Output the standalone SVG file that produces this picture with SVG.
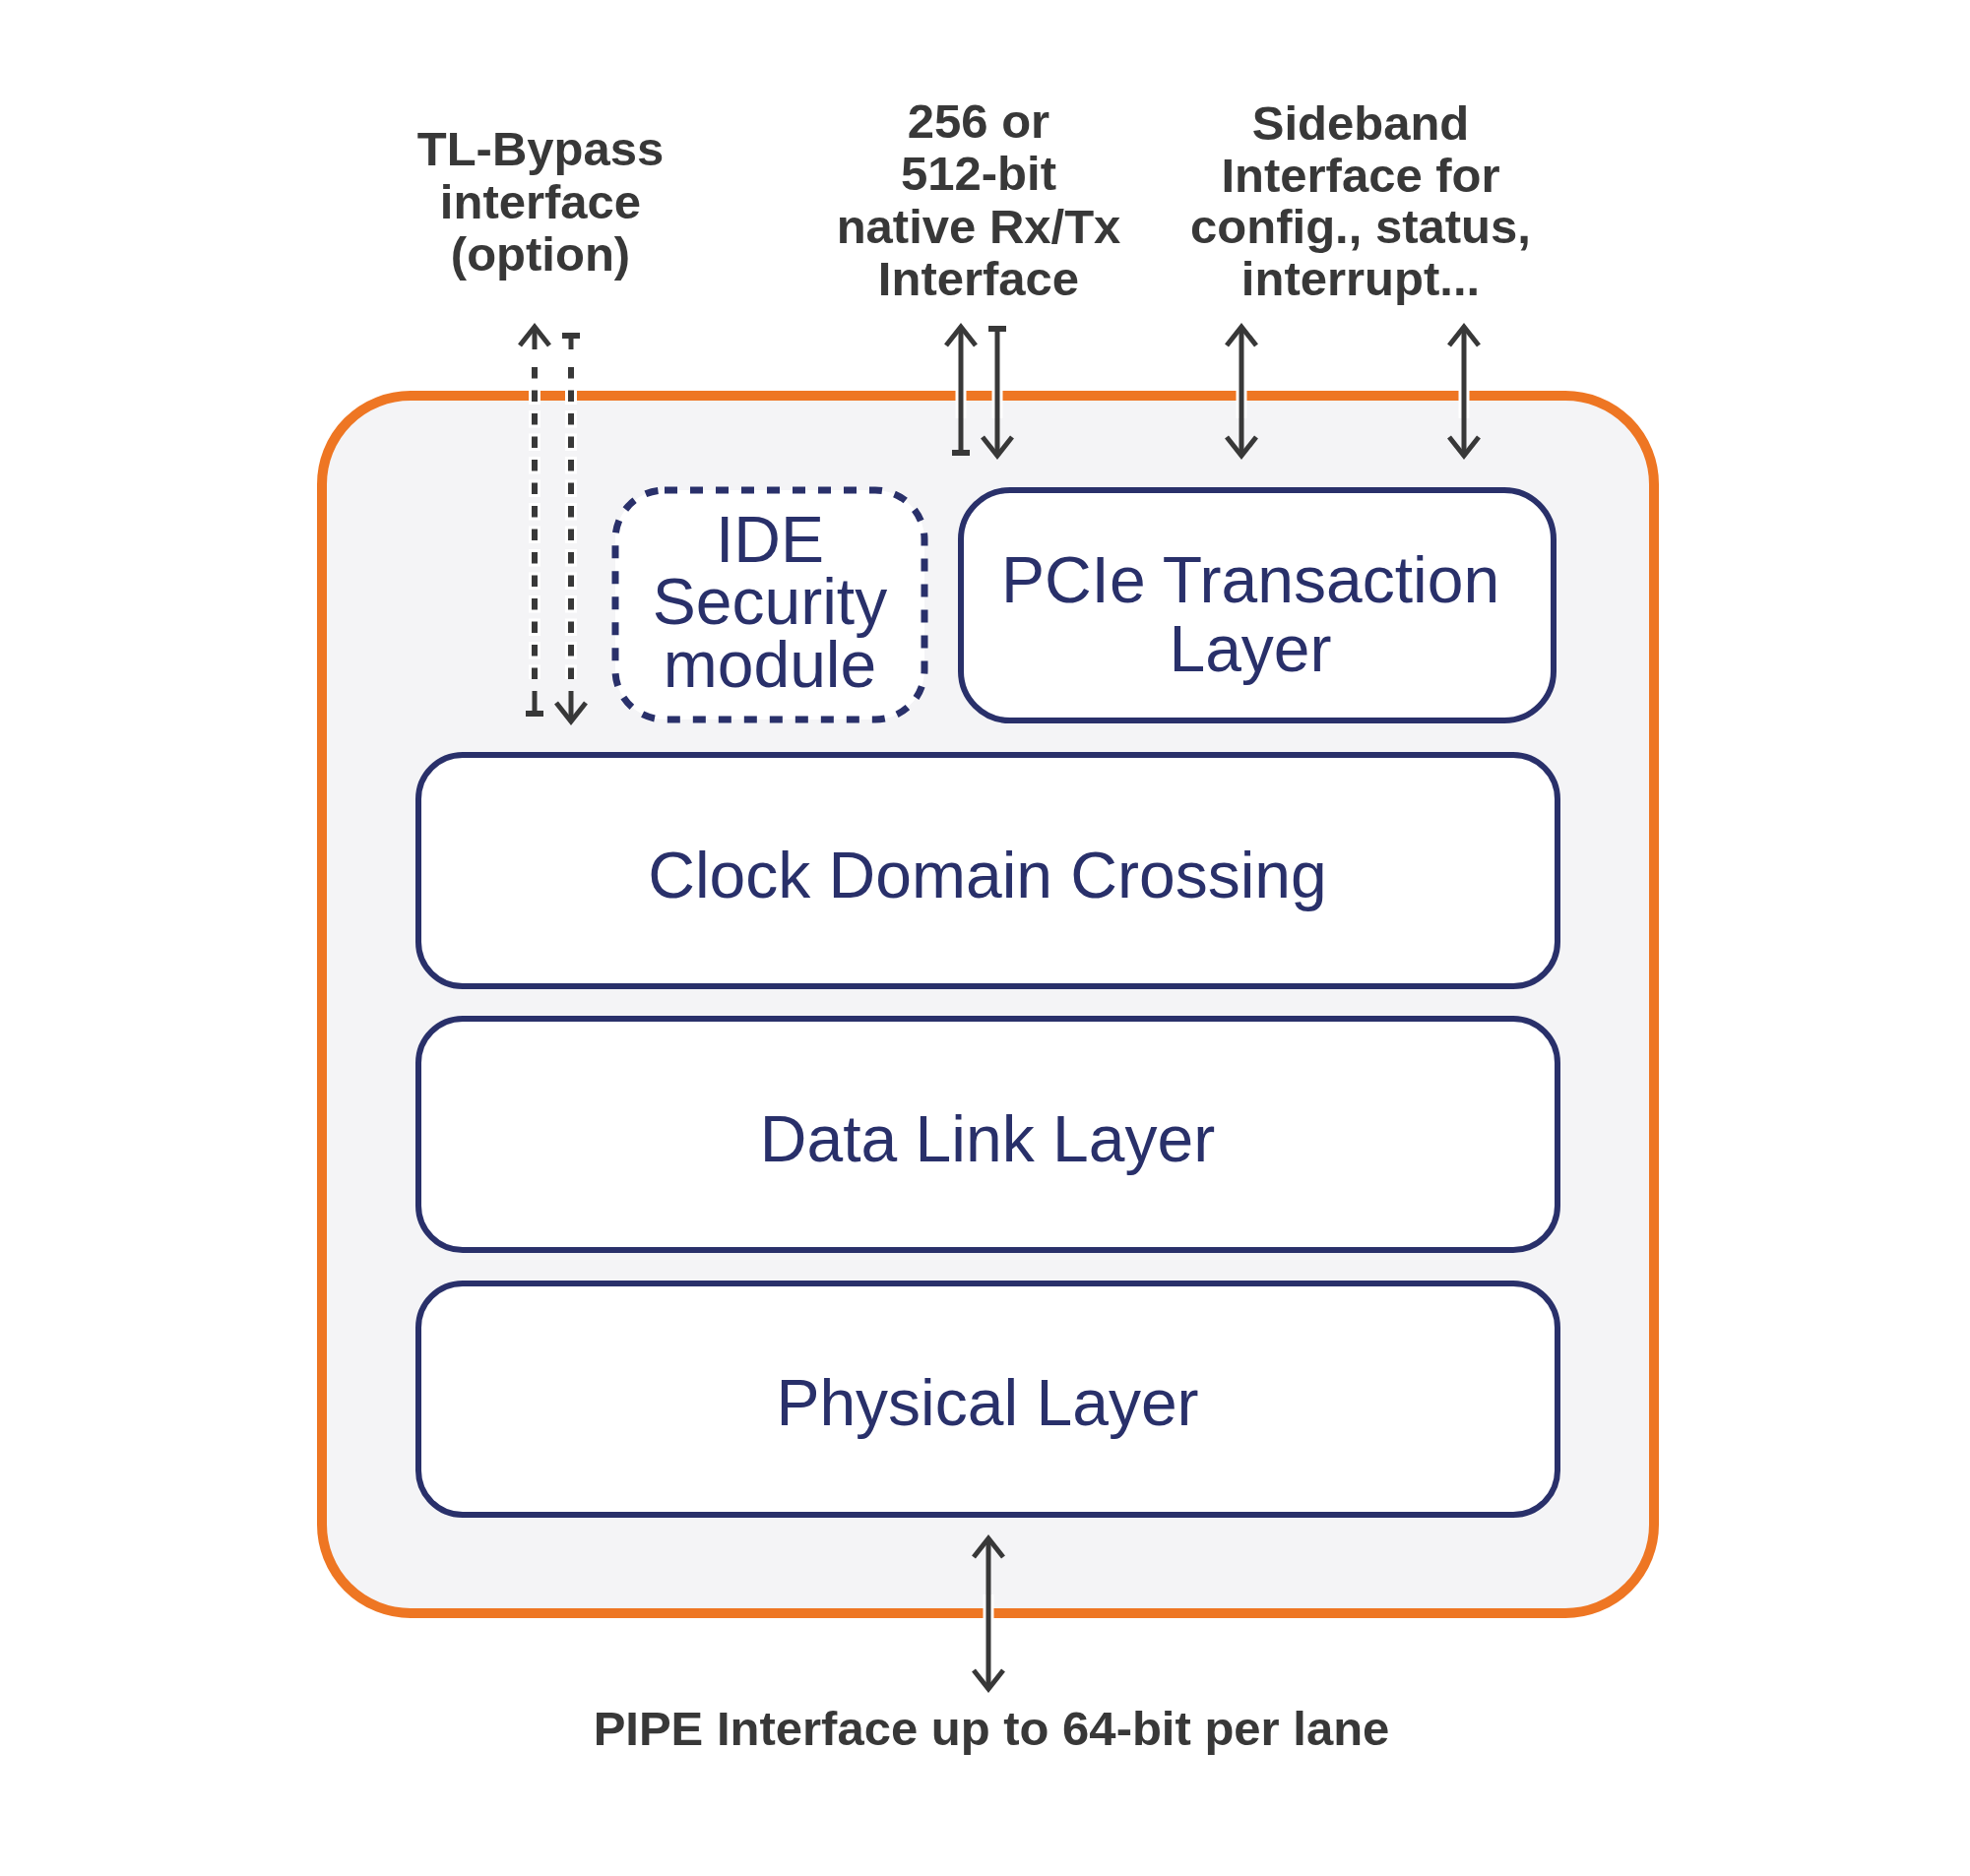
<svg xmlns="http://www.w3.org/2000/svg" width="2001" height="1906" viewBox="0 0 2001 1906">
<style>
.lbl{font-family:"Liberation Sans",Arial,sans-serif;font-weight:bold;font-size:49px;fill:#383838;text-anchor:middle}
.nt{font-family:"Liberation Sans",Arial,sans-serif;font-size:66px;fill:#29306A;text-anchor:middle}
.box{fill:#FFFFFF;stroke:#29306A;stroke-width:6}
.ln{stroke:#383838;stroke-width:5;fill:none}
.dl{stroke:#383838;stroke-width:6;fill:none;stroke-dasharray:11.5 12}
.dh{stroke:#FFFFFF;stroke-width:12;fill:none;stroke-dasharray:17.5 6;stroke-dashoffset:3}
.halo{stroke:#FFFFFF;stroke-width:11;fill:none}
</style>
<defs>
<marker id="ah" viewBox="-30 -20 40 40" markerUnits="userSpaceOnUse" markerWidth="40" markerHeight="40" refX="0" refY="0" orient="auto-start-reverse">
<path d="M -19 -15 L 0 0 L -19 15" fill="none" stroke="#383838" stroke-width="5"/>
</marker>
<marker id="bar" viewBox="-20 -20 40 40" markerUnits="userSpaceOnUse" markerWidth="40" markerHeight="40" refX="0" refY="0" orient="auto">
<path d="M -3 -9 L -3 9" fill="none" stroke="#383838" stroke-width="6"/>
</marker>
</defs>
<rect width="2001" height="1906" fill="#FFFFFF"/>
<g id="core">
<rect x="327" y="402" width="1353" height="1237" rx="90" ry="90" fill="#F4F4F6" stroke="#EE7623" stroke-width="10"/>
</g>
<g id="ide">
<rect x="625" y="498" width="314" height="233" rx="50" ry="50" fill="#FFFFFF" stroke="#29306A" stroke-width="7" stroke-dasharray="13 13"/>
<text class="nt" x="782" y="571">IDE</text>
<text class="nt" x="782" y="634">Security</text>
<text class="nt" x="782" y="698">module</text>
</g>
<g id="tl">
<rect class="box" x="976" y="498" width="602" height="234" rx="50" ry="50"/>
<text class="nt" x="1270" y="612">PCIe Transaction</text>
<text class="nt" x="1270" y="682">Layer</text>
</g>
<g id="cdc">
<rect class="box" x="425" y="767" width="1157" height="235" rx="45" ry="45"/>
<text class="nt" x="1003" y="912">Clock Domain Crossing</text>
</g>
<g id="dll">
<rect class="box" x="425" y="1035" width="1157" height="235" rx="45" ry="45"/>
<text class="nt" x="1003" y="1180">Data Link Layer</text>
</g>
<g id="phy">
<rect class="box" x="425" y="1304" width="1157" height="235" rx="45" ry="45"/>
<text class="nt" x="1003" y="1448">Physical Layer</text>
</g>
<g id="labels">
<text class="lbl" x="549" y="168">TL-Bypass</text>
<text class="lbl" x="549" y="222">interface</text>
<text class="lbl" x="549" y="275">(option)</text>
<text class="lbl" x="994" y="140">256 or</text>
<text class="lbl" x="994" y="193">512-bit</text>
<text class="lbl" x="994" y="247">native Rx/Tx</text>
<text class="lbl" x="994" y="300">Interface</text>
<text class="lbl" x="1382" y="142">Sideband</text>
<text class="lbl" x="1382" y="195">Interface for</text>
<text class="lbl" x="1382" y="247">config., status,</text>
<text class="lbl" x="1382" y="300">interrupt...</text>
<text class="lbl" x="1007" y="1773">PIPE Interface up to 64-bit per lane</text>
</g>
<g id="connectors">
<line class="halo" x1="976" y1="380" x2="976" y2="425"/>
<line class="halo" x1="1013" y1="380" x2="1013" y2="425"/>
<line class="halo" x1="1261" y1="380" x2="1261" y2="425"/>
<line class="halo" x1="1487" y1="380" x2="1487" y2="425"/>
<line class="halo" x1="1004" y1="1620" x2="1004" y2="1660"/>
<line class="dh" x1="543" y1="373" x2="543" y2="690"/>
<line class="dh" x1="580" y1="373" x2="580" y2="690"/>
<line class="ln" x1="543" y1="355" x2="543" y2="332" marker-end="url(#ah)"/>
<line class="dl" x1="543" y1="373" x2="543" y2="690"/>
<line class="ln" x1="543" y1="702" x2="543" y2="728" marker-end="url(#bar)"/>
<line class="ln" x1="580" y1="355" x2="580" y2="338" marker-end="url(#bar)"/>
<line class="dl" x1="580" y1="373" x2="580" y2="690"/>
<line class="ln" x1="580" y1="702" x2="580" y2="733" marker-end="url(#ah)"/>
<line class="ln" x1="976" y1="457" x2="976" y2="332" marker-end="url(#ah)" marker-start="url(#bar)"/>
<line class="ln" x1="1013" y1="337" x2="1013" y2="463" marker-end="url(#ah)" marker-start="url(#bar)"/>
<line class="ln" x1="1261" y1="332" x2="1261" y2="463" marker-start="url(#ah)" marker-end="url(#ah)"/>
<line class="ln" x1="1487" y1="332" x2="1487" y2="463" marker-start="url(#ah)" marker-end="url(#ah)"/>
<line class="ln" x1="1004" y1="1563" x2="1004" y2="1716" marker-start="url(#ah)" marker-end="url(#ah)"/>
</g>
</svg>
